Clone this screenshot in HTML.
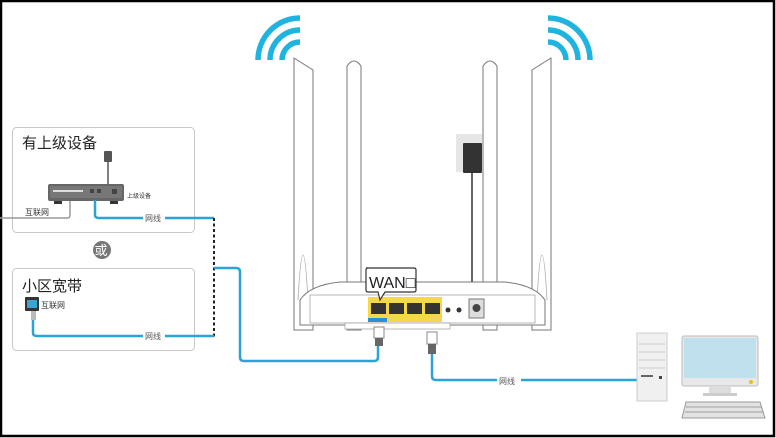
<!DOCTYPE html>
<html><head><meta charset="utf-8"><style>
html,body{margin:0;padding:0;background:#fff}
svg{display:block}
text{font-family:"Liberation Sans","Noto Sans CJK SC",sans-serif}
</style></head><body>
<svg width="776" height="438" viewBox="0 0 776 438" xmlns="http://www.w3.org/2000/svg">
<rect x="0" y="0" width="776" height="438" fill="#fff"/>
<rect x="1" y="1" width="773" height="435" fill="none" stroke="#000" stroke-width="2.5"/>

<!-- box1 -->
<rect x="12.5" y="127.5" width="182" height="105" rx="4" fill="#fff" stroke="#c8c8c8"/>
<text x="22" y="148" font-size="15" fill="#222">有上级设备</text>
<line x1="108" y1="160" x2="108" y2="186" stroke="#555" stroke-width="1.5"/>
<rect x="104" y="151" width="8" height="11" rx="1" fill="#555"/>
<rect x="48" y="184" width="76" height="17" rx="2" fill="#666"/>
<rect x="50" y="186" width="72" height="12" fill="#777"/>
<rect x="53" y="190" width="30" height="2" fill="#ddd"/>
<rect x="90" y="189" width="4" height="4" fill="#444"/><rect x="97" y="189" width="4" height="4" fill="#444"/><rect x="112" y="189" width="5" height="5" fill="#444"/>
<rect x="54" y="201" width="8" height="3" fill="#333"/><rect x="110" y="201" width="8" height="3" fill="#333"/>
<text x="127" y="198" font-size="6" fill="#333">上级设备</text>
<path d="M0 218 H68 Q70 218 70 214 V201" fill="none" stroke="#999" stroke-width="1.5"/>
<text x="25" y="215" font-size="8" fill="#333">互联网</text>
<path d="M95 200 V215 Q95 218 99 218 H214" fill="none" stroke="#2aa3d6" stroke-width="2.5"/>
<rect x="143" y="212" width="22" height="11" fill="#fff"/>
<text x="145" y="221" font-size="8" fill="#555">网线</text>

<line x1="214" y1="218" x2="214" y2="337" stroke="#222" stroke-width="2" stroke-dasharray="3,2.5"/>

<circle cx="102" cy="250" r="9" fill="#777"/>
<text x="94.5" y="255" font-size="13" fill="#fff">或</text>

<!-- box2 -->
<rect x="12.5" y="268.5" width="182" height="82" rx="4" fill="#fff" stroke="#c8c8c8"/>
<text x="22" y="291" font-size="15" fill="#222">小区宽带</text>
<rect x="25" y="297" width="14" height="14" rx="1" fill="#333"/>
<rect x="27" y="300" width="10" height="8" fill="#3aa5d0"/>
<text x="41" y="308" font-size="8" fill="#333">互联网</text>
<rect x="31" y="311" width="5" height="9" fill="#bbb"/>
<path d="M33 320 V333 Q33 336 37 336 H214" fill="none" stroke="#2aa3d6" stroke-width="2.5"/>
<rect x="143" y="330" width="22" height="11" fill="#fff"/>
<text x="145" y="339" font-size="8" fill="#555">网线</text>

<!-- cable to WAN -->
<path d="M214 268 H236 Q240 268 240 272 V357 Q240 361 244 361 H374 Q378 361 378 357 V346" fill="none" stroke="#2aa3d6" stroke-width="2.5"/>
<!-- cable to PC -->
<path d="M432 354 V376 Q432 380 436 380 H640" fill="none" stroke="#2aa3d6" stroke-width="2.5"/>
<rect x="497" y="375" width="24" height="11" fill="#fff"/>
<text x="499" y="384" font-size="8" fill="#555">网线</text>

<!-- wifi arcs -->
<g fill="none" stroke="#1fb3e0" stroke-width="5.5">
<path d="M258 60 A42 42 0 0 1 300 18"/>
<path d="M270 60 A30 30 0 0 1 300 30"/>
<path d="M282 60 A18 18 0 0 1 300 42"/>
<path d="M590 60 A42 42 0 0 0 548 18"/>
<path d="M578 60 A30 30 0 0 0 548 30"/>
<path d="M566 60 A18 18 0 0 0 548 42"/>
</g>

<!-- antennas -->
<g fill="#fff" stroke="#777" stroke-width="1">
<path d="M294 58 L313 70 V330 H294 Z"/>
<path d="M347 330 V66 Q354 56 361 66 V330 Z"/>
<path d="M483 330 V66 Q490 56 497 66 V330 Z"/>
<path d="M551 58 L532 70 V330 H551 Z"/>
</g>
<g fill="none" stroke="#aaa" stroke-width="0.8">
<path d="M298 300 Q303 210 308 300"/><path d="M537 300 Q542 210 547 300"/>
</g>

<!-- power adapter -->
<rect x="456" y="134" width="26" height="38" fill="#e6e6e6"/>
<rect x="463" y="143" width="19" height="30" rx="1" fill="#333"/>
<line x1="472" y1="173" x2="472" y2="288" stroke="#333" stroke-width="1.5"/>
<rect x="469" y="284" width="6" height="8" fill="#555"/>

<!-- router body -->
<path d="M300 300 Q310 285 340 282 H505 Q535 285 545 300 V325 H300 Z" fill="#fff" stroke="#777"/>
<rect x="310" y="295" width="225" height="28" fill="#fff" stroke="#999" stroke-width="0.7"/>
<rect x="345" y="323" width="105" height="6" fill="#fff" stroke="#999" stroke-width="0.7"/>
<rect x="368" y="297" width="74" height="25" fill="#f2d84a"/>
<g fill="#333">
<rect x="371" y="303" width="15" height="11"/><rect x="389" y="303" width="15" height="11"/>
<rect x="407" y="303" width="15" height="11"/><rect x="425" y="303" width="15" height="11"/>
</g>
<rect x="368" y="318" width="19" height="4" fill="#2a8fd6"/>
<circle cx="448" cy="310" r="2.5" fill="#333"/><circle cx="459" cy="310" r="2.5" fill="#333"/>
<rect x="469" y="299" width="15" height="19" fill="#ddd" stroke="#777"/>
<circle cx="476.5" cy="308" r="4" fill="#444"/>

<!-- WAN label -->
<path d="M366 268 H414 Q416 268 416 270 V290 Q416 292 414 292 H385 L380 300 L378 292 H368 Q366 292 366 290 V270 Q366 268 368 268 Z" fill="#fff" stroke="#333" stroke-width="1.2"/>
<text x="369" y="288" font-size="16" fill="#222">WAN□</text>

<!-- plugs -->
<rect x="374" y="327" width="10" height="11" fill="#fff" stroke="#888"/>
<rect x="375" y="338" width="8" height="8" fill="#666"/>
<rect x="427" y="332" width="10" height="12" fill="#fff" stroke="#888"/>
<rect x="428" y="344" width="8" height="10" fill="#666"/>

<!-- PC tower -->
<rect x="637" y="333" width="30" height="68" fill="#f0f0f0" stroke="#ccc"/>
<g stroke="#ccc"><line x1="639" y1="344" x2="665" y2="344"/><line x1="639" y1="352" x2="665" y2="352"/><line x1="639" y1="360" x2="665" y2="360"/><line x1="639" y1="368" x2="665" y2="368"/></g>
<rect x="641" y="375" width="12" height="2" fill="#666"/>
<rect x="659" y="376" width="3" height="3" fill="#444"/>
<!-- monitor -->
<rect x="682" y="336" width="76" height="50" rx="2" fill="#e8e8e8" stroke="#bbb"/>
<rect x="684" y="338" width="72" height="40" fill="#bfe0ec"/>
<rect x="709" y="386" width="22" height="7" fill="#ddd"/>
<rect x="703" y="393" width="34" height="3" fill="#ccc"/>
<circle cx="751" cy="382" r="2" fill="#e8c020"/>
<!-- keyboard -->
<path d="M682 418 L686 402 H760 L765 418 Z" fill="#e2e2e2" stroke="#999"/>
<g stroke="#888" stroke-width="0.7"><line x1="686" y1="407" x2="762" y2="407"/><line x1="685" y1="412" x2="763" y2="412"/></g>
</svg>
</body></html>
